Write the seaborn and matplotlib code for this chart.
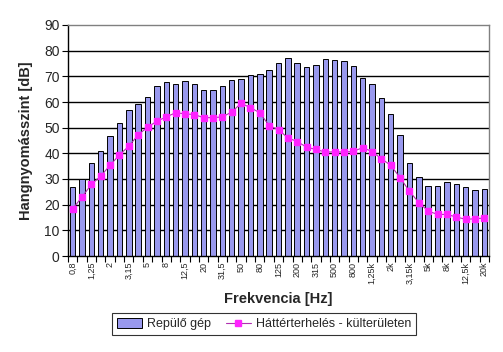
import matplotlib
matplotlib.use("Agg")
import matplotlib.pyplot as plt
import seaborn as sns
import pandas as pd
from matplotlib.patches import Patch
from matplotlib.lines import Line2D

freqs = ["0,8", "1", "1,25", "1,6", "2", "2,5", "3,15", "4", "5", "6,3", "8", "10",
         "12,5", "16", "20", "25", "31,5", "40", "50", "63", "80", "100", "125", "160",
         "200", "250", "315", "400", "500", "630", "800", "1k", "1,25k", "1,6k", "2k",
         "2,5k", "3,15k", "4k", "5k", "6,3k", "8k", "10k", "12,5k", "16k", "20k"]

aircraft = [27.0, 30.1, 36.3, 41.0, 46.6, 51.9, 56.9, 59.3, 62.0, 66.3, 67.8, 67.1,
            68.2, 67.1, 64.7, 64.7, 66.3, 68.6, 69.0, 70.6, 70.9, 72.6, 75.3, 77.2,
            75.3, 73.8, 74.5, 76.8, 76.4, 76.0, 74.2, 69.5, 67.1, 61.7, 55.4,
            47.0, 36.4, 30.6, 27.1, 27.4, 29.0, 27.9, 26.7, 25.9, 26.2]

background = [18.4, 23.0, 27.9, 31.1, 35.4, 39.4, 42.8, 47.2, 50.2, 52.5, 54.2, 55.8,
              55.4, 55.1, 53.9, 53.9, 54.2, 56.1, 59.5, 57.8, 55.8, 50.8, 49.2, 46.0,
              44.6, 42.4, 41.5, 40.5, 40.6, 40.5, 40.8, 42.2, 40.7, 37.9, 35.3,
              30.5, 25.2, 20.8, 17.5, 16.2, 16.2, 15.2, 14.3, 14.5, 14.8]

yticks = list(range(0, 91, 10))

df = pd.DataFrame({"freq": freqs, "aircraft": aircraft, "background": background})

sns.set_theme(style="white")
plt.rcParams["font.family"] = ["Liberation Sans", "DejaVu Sans"]

bar_color = "#9999EE"
line_color = "#B030B0"
marker_color = "#FF22FF"

fig = plt.figure(figsize=(5.03, 3.52), dpi=100)
ax = fig.add_axes([68 / 503, 96 / 352, 421 / 503, 231 / 352])

for y in yticks[1:-1]:
    ax.axhline(y, color="black", lw=1.0, zorder=0)

sns.barplot(data=df, x="freq", y="aircraft", color=bar_color, edgecolor="black",
            linewidth=0.7, width=0.58, saturation=1, ax=ax, zorder=2)
ax.plot(range(len(freqs)), df["background"], color=line_color, lw=0.8,
        marker="s", markersize=3.8, markerfacecolor=marker_color,
        markeredgecolor=marker_color, zorder=3)

ax.set_xlim(-0.5, len(freqs) - 0.5)
ax.set_ylim(0, 90)
ax.set_yticks(yticks)
ax.set_yticklabels([str(v) for v in yticks], fontsize=10)

ax.set_xticks(range(0, len(freqs), 2))
ax.set_xticklabels(freqs[::2], rotation=90, fontsize=6.5)
ax.set_xticks([i - 0.5 for i in range(len(freqs) + 1)], minor=True)
ax.tick_params(axis="x", which="major", length=0, pad=4)
ax.tick_params(axis="x", which="minor", length=4, width=0.8, color="black", direction="out", bottom=True)
ax.tick_params(axis="y", which="major", length=4, width=0.8, color="black", direction="out", left=True, pad=2)

for side in ["left", "bottom"]:
    ax.spines[side].set_color("black")
    ax.spines[side].set_linewidth(1.0)
for side in ["top", "right"]:
    ax.spines[side].set_color("#808080")
    ax.spines[side].set_linewidth(1.0)

ax.set_xlabel("Frekvencia [Hz]", fontsize=10.5, fontweight="bold", labelpad=6)
ax.set_ylabel("Hangnyomásszint [dB]", fontsize=10.5, fontweight="bold", labelpad=8)

handles = [Patch(facecolor=bar_color, edgecolor="black", linewidth=0.7, label="Repülő gép"),
           Line2D([0], [0], color=line_color, lw=0.8, marker="s", markersize=3.8,
                  markerfacecolor=marker_color, markeredgecolor=marker_color,
                  label="Háttérterhelés - külterületen")]
leg = fig.legend(handles=handles, loc="center", bbox_to_anchor=(264 / 503, 1 - 324 / 352),
                 ncol=2, fontsize=9, frameon=True, fancybox=False, edgecolor="black",
                 handlelength=2.0, handleheight=0.8, columnspacing=1.2, borderpad=0.4,
                 handletextpad=0.4)
leg.get_frame().set_linewidth(0.8)

fig.savefig("out.png", dpi=100)
